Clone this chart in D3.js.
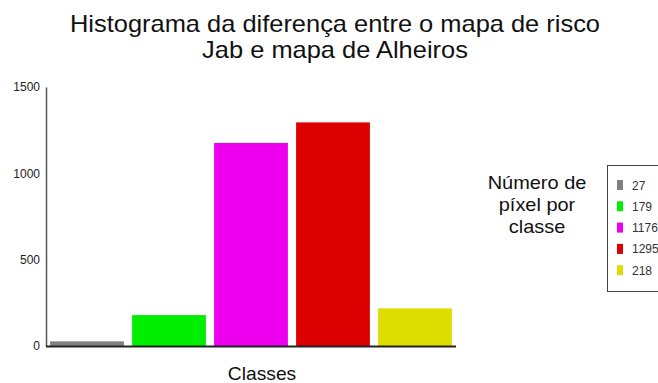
<!DOCTYPE html>
<html>
<head>
<meta charset="utf-8">
<script src="https://cdn.jsdelivr.net/npm/d3@7"></script>
<style>
  html, body { margin: 0; padding: 0; background: #fff; }
  svg { display: block; font-family: Arial, "Liberation Sans", sans-serif; }
</style>
</head>
<body>
<svg id="chart" width="658" height="383"></svg>
<script>
// Pixel counts per class
const classes = ["27", "179", "1176", "1295", "218"];
const values = [27, 179, 1176, 1295, 218];
const colors = ["#808080", "#00ee00", "#ee00ee", "#dd0000", "#dddd00"];
const yTicks = [0, 500, 1000, 1500];
const titleLines = ["Histograma da diferença entre o mapa de risco", "Jab e mapa de Alheiros"];
const legendTitle = ["Número de", "píxel por", "classe"];

const svg = d3.select("#chart");

const plot = { left: 46, right: 456, top: 87, bottom: 346 };

const x = d3.scaleBand()
  .domain(classes)
  .range([plot.left, plot.right])
  .paddingInner(0.1)
  .paddingOuter(0.05);

const y = d3.scaleLinear()
  .domain([0, 1500])
  .range([plot.bottom, plot.top]);

// Title (slightly widened lettering)
svg.append("g")
  .selectAll("text")
  .data(titleLines)
  .join("text")
  .attr("transform", (d, i) => `translate(335,${32 + i * 26}) scale(1.06,1)`)
  .attr("text-anchor", "middle")
  .attr("font-size", 24)
  .attr("fill", "#111")
  .text(d => d);

// Bars
svg.append("g")
  .selectAll("rect")
  .data(values)
  .join("rect")
  .attr("x", (d, i) => x(classes[i]))
  .attr("y", d => y(d))
  .attr("width", x.bandwidth())
  .attr("height", d => y(0) - y(d))
  .attr("fill", (d, i) => colors[i]);

// Y axis
const yAxis = svg.append("g")
  .attr("transform", `translate(${plot.left},0)`)
  .call(d3.axisLeft(y).tickValues(yTicks).tickSize(0).tickPadding(6).tickFormat(d3.format("d")));
yAxis.select(".domain").attr("stroke", "#555").attr("stroke-width", 1.5);
yAxis.selectAll("text")
  .attr("font-size", 12)
  .attr("fill", "#222")
  .attr("font-family", "Arial, 'Liberation Sans', sans-serif");

// X axis baseline
svg.append("line")
  .attr("x1", plot.left)
  .attr("x2", plot.right)
  .attr("y1", y(0) + 0.5)
  .attr("y2", y(0) + 0.5)
  .attr("stroke", "#222")
  .attr("stroke-width", 2);

// X axis title
svg.append("text")
  .attr("transform", "translate(262,380) scale(1.04,1)")
  .attr("text-anchor", "middle")
  .attr("font-size", 18.5)
  .attr("fill", "#111")
  .text("Classes");

// Legend title
svg.append("g")
  .selectAll("text")
  .data(legendTitle)
  .join("text")
  .attr("transform", (d, i) => `translate(537,${189 + i * 22}) scale(1.05,1)`)
  .attr("text-anchor", "middle")
  .attr("font-size", 19)
  .attr("fill", "#111")
  .text(d => d);

// Legend box
const legend = svg.append("g").attr("transform", "translate(607,165)");
legend.append("rect")
  .attr("x", 0.5)
  .attr("y", 0.5)
  .attr("width", 80)
  .attr("height", 126)
  .attr("fill", "#fff")
  .attr("stroke", "#444")
  .attr("stroke-width", 1);

const items = legend.selectAll("g.item")
  .data(classes)
  .join("g")
  .attr("class", "item")
  .attr("transform", (d, i) => `translate(0,${20 + i * 21.3})`);

items.append("rect")
  .attr("x", 10)
  .attr("y", -5)
  .attr("width", 6)
  .attr("height", 10)
  .attr("fill", (d, i) => colors[i]);

items.append("text")
  .attr("x", 25)
  .attr("y", 4.5)
  .attr("font-size", 12)
  .attr("fill", "#333")
  .text(d => d);
</script>
</body>
</html>
